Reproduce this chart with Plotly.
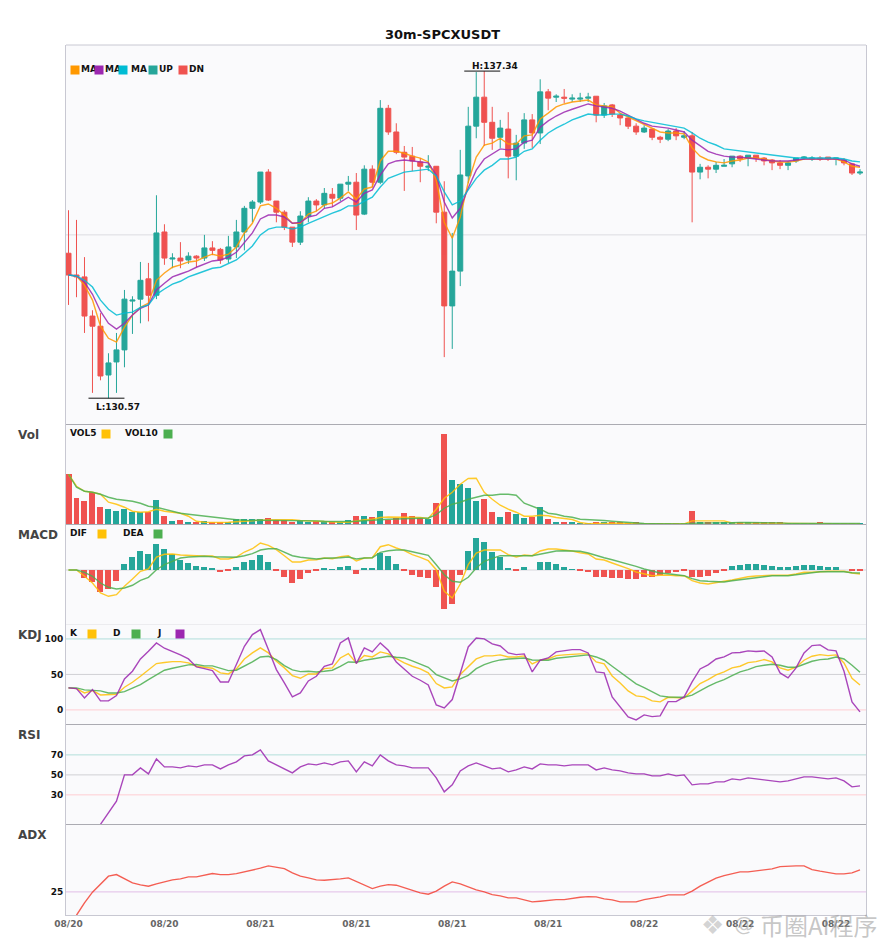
import plotly.graph_objects as go
from plotly.subplots import make_subplots

title = "30m-SPCXUSDT"
tick_idx = [0, 12, 24, 36, 48, 60, 72, 84, 96]
tick_text = ["08/20", "08/20", "08/21", "08/21", "08/21", "08/21", "08/22", "08/22", "08/22"]

opens = [133.57,133.12,133.08,132.27,132.06,131.05,131.32,131.57,132.58,132.62,
         133.04,132.70,134.01,133.45,133.47,133.43,133.51,133.47,133.68,133.65,
         133.45,133.70,134.01,134.50,134.63,135.25,134.65,134.42,134.11,133.80,
         134.34,134.65,134.57,134.79,134.71,135.00,135.04,134.38,135.31,135.04,
         136.57,136.08,135.66,135.58,135.46,135.35,135.37,134.42,132.48,133.20,
         135.17,136.20,136.80,136.28,135.97,136.14,135.58,135.85,136.33,136.06,
         136.91,136.80,136.80,136.76,136.76,136.78,136.82,136.43,136.64,136.43,
         136.37,136.20,136.08,136.14,135.97,135.93,136.10,135.97,136.00,135.25,
         135.35,135.31,135.37,135.42,135.58,135.54,135.60,135.54,135.50,135.44,
         135.39,135.48,135.54,135.52,135.54,135.56,135.52,135.50,135.42,135.23]
highs = [134.46,134.26,133.49,132.39,132.33,131.50,131.92,132.81,132.68,133.39,
         133.37,134.77,134.17,133.57,133.80,133.59,133.53,133.95,133.82,133.68,
         133.93,134.26,134.55,134.67,135.25,135.31,134.65,134.46,134.11,134.44,
         134.73,134.69,134.92,134.92,135.00,135.17,135.23,135.39,135.39,136.74,
         136.64,136.26,135.79,135.77,135.54,135.60,135.37,135.06,133.99,135.71,
         136.60,137.32,137.34,136.60,136.33,136.49,136.02,136.47,136.45,137.17,
         136.97,136.86,136.97,136.86,136.89,136.89,136.82,136.68,136.66,136.47,
         136.41,136.26,136.22,136.14,136.00,136.14,136.16,136.10,136.08,135.42,
         135.39,135.46,135.52,135.58,135.60,135.60,135.60,135.56,135.52,135.50,
         135.48,135.54,135.58,135.58,135.58,135.56,135.54,135.54,135.44,135.31]
lows = [132.50,132.66,131.92,130.68,130.94,130.57,130.68,131.21,131.90,132.12,
        132.16,132.62,133.33,133.26,133.26,133.35,133.28,133.41,133.53,133.35,
        133.37,133.47,133.63,134.21,134.59,134.65,134.21,134.05,133.70,133.74,
        134.21,134.44,134.50,134.53,134.65,134.86,134.05,134.36,134.94,135.00,
        136.02,135.62,134.86,135.27,135.04,135.27,134.19,131.42,131.59,132.89,
        135.02,135.95,135.79,135.71,135.75,135.12,135.08,135.73,135.75,135.83,
        136.53,136.70,136.68,136.70,136.70,136.70,136.28,136.37,136.39,136.22,
        136.14,136.02,136.06,135.91,135.85,135.89,135.91,135.93,134.21,135.10,
        135.12,135.23,135.37,135.35,135.46,135.37,135.46,135.39,135.29,135.31,
        135.29,135.44,135.50,135.48,135.48,135.48,135.39,135.39,135.19,135.19]
closes = [133.12,133.08,132.27,132.06,131.03,131.30,131.57,132.62,132.60,133.01,
          132.70,133.99,133.47,133.47,133.41,133.51,133.47,133.68,133.63,133.43,
          133.70,134.01,134.50,134.63,135.25,134.67,134.42,134.11,133.80,134.34,
          134.65,134.57,134.81,134.71,135.00,135.04,134.36,135.31,135.04,136.57,
          136.08,135.66,135.56,135.48,135.37,135.37,134.42,132.48,133.20,135.19,
          136.20,136.80,136.28,135.95,136.16,135.58,135.85,136.33,136.06,136.91,
          136.78,136.82,136.78,136.78,136.78,136.80,136.43,136.62,136.45,136.37,
          136.20,136.08,136.16,135.97,135.93,136.10,136.00,136.00,135.25,135.35,
          135.31,135.39,135.39,135.58,135.52,135.60,135.54,135.48,135.44,135.39,
          135.44,135.54,135.56,135.54,135.52,135.52,135.54,135.44,135.23,135.25]

ma5 = [133.12,133.10,132.91,132.60,132.06,131.81,131.73,132.04,132.29,132.45,
       132.54,133.01,133.16,133.28,133.33,133.39,133.41,133.49,133.55,133.51,
       133.55,133.70,133.99,134.19,134.55,134.59,134.50,134.36,134.19,134.19,
       134.38,134.44,134.57,134.61,134.71,134.84,134.69,134.90,134.94,135.48,
       135.68,135.68,135.64,135.58,135.54,135.46,135.08,134.21,133.88,134.32,
       135.04,135.56,135.81,135.85,135.95,135.83,135.83,136.00,136.02,136.35,
       136.47,136.60,136.66,136.70,136.72,136.74,136.64,136.62,136.60,136.47,
       136.39,136.31,136.24,136.16,136.08,136.06,136.06,136.04,135.75,135.58,
       135.50,135.46,135.44,135.48,135.50,135.54,135.54,135.52,135.48,135.46,
       135.46,135.48,135.52,135.52,135.52,135.52,135.52,135.46,135.37,135.35]
ma10 = [133.12,133.10,132.97,132.72,132.37,132.12,132.00,132.12,132.29,132.43,
        132.50,132.81,132.95,133.08,133.14,133.20,133.28,133.35,133.41,133.43,
        133.49,133.59,133.80,133.99,134.28,134.36,134.36,134.32,134.19,134.21,
        134.32,134.36,134.50,134.53,134.63,134.73,134.63,134.81,134.88,135.19,
        135.42,135.48,135.50,135.48,135.46,135.44,135.19,134.63,134.30,134.50,
        134.92,135.29,135.52,135.62,135.73,135.71,135.73,135.87,135.91,136.18,
        136.31,136.41,136.49,136.55,136.60,136.66,136.62,136.60,136.57,136.51,
        136.43,136.35,136.26,136.20,136.18,136.16,136.12,136.08,135.91,135.79,
        135.68,135.62,135.58,135.56,135.56,135.54,135.52,135.50,135.48,135.48,
        135.48,135.50,135.52,135.52,135.52,135.52,135.52,135.50,135.42,135.37]
ma20 = [133.12,133.10,133.01,132.87,132.60,132.41,132.29,132.33,132.35,132.45,
        132.50,132.72,132.83,132.93,132.99,133.08,133.14,133.20,133.26,133.28,
        133.35,133.43,133.57,133.72,133.95,134.07,134.11,134.11,134.07,134.11,
        134.19,134.26,134.34,134.40,134.46,134.55,134.55,134.65,134.73,134.94,
        135.12,135.19,135.25,135.27,135.29,135.31,135.17,134.84,134.57,134.65,
        134.88,135.12,135.29,135.39,135.52,135.52,135.56,135.68,135.73,135.91,
        136.06,136.16,136.24,136.33,136.39,136.45,136.43,136.43,136.45,136.45,
        136.41,136.35,136.31,136.28,136.24,136.22,136.18,136.16,136.06,135.95,
        135.87,135.81,135.73,135.71,135.68,135.66,135.64,135.62,135.60,135.58,
        135.56,135.54,135.54,135.54,135.54,135.54,135.54,135.52,135.48,135.46]

volume = [50,26,23,32,17,15,13,15,12,12,12,24,8,3,4,1,2,3,1.5,1.5,
          1.5,5,5,5,5,6,3.5,3.5,2,3,2,2.5,1,1,1,4,8,8,7,13,
          4,6,11,8,6,5,21,90,44,40,36,23,25,12,7,12,10,6,7,17,
          5,1,2,1,0.5,0.5,1.5,1.5,1.5,1.5,0.5,1,0.5,0.3,0.3,0.3,0.3,0.3,13,1.5,
          1.5,1.5,1.5,1,1,1,1,1,1,1.5,0.5,0.3,0.3,0.3,1.5,0.3,0.3,0.3,0.3,0.3]
vol5 = [50,38,33,32,30,22,20,17,13,12,12.5,15,13,12,11,8,3,2,1.7,1.7,
        2,2.7,3,3.5,4,4.5,4.5,4.5,4.5,3.7,3.3,2.7,2.7,2.3,2,2,3.3,4.5,5,6.7,
        7.3,7.3,7.3,7,6.7,5.7,15,26,32,40,45.7,46,32,25,19,15,12,8,8,9,
        8.5,6.7,5.7,4.7,1.7,0.5,0.8,1,1,1,1,0.7,0.7,0.4,0.4,0.4,0.4,0.4,3.3,3.3,
        3.3,3.3,3.3,1.3,1.2,1.2,1.2,1.2,1.2,1.2,0.7,0.4,0.4,0.5,0.6,0.6,0.6,0.6,0.5,0.5]
vol10 = [50,37,33,32,30,27,25,24,23,21,18,17,15,13,11,10,9,8,7,6,
         5,4.5,4,4,3.7,3.7,3.7,3.7,3.7,3.7,3.3,3.3,3,2.7,2.7,2.7,3,3.7,4,4.5,
         5,5.3,5.7,6,6.3,6.3,9.5,16,20,22,25,27,29,29,30,30,29,21,18,15,
         11,10,8,7,5,4.7,3.7,3.7,3,2.3,1.7,1.3,0.7,0.5,0.4,0.3,0.3,0.3,1,1.3,
         1.3,1.3,1.3,1.7,1.7,1.7,1.7,1.7,1.7,1.3,0.8,0.8,0.8,0.8,0.8,0.8,0.8,0.8,0.8,0.8]

macd_hist = [0,0,-0.087,-0.127,-0.227,-0.197,-0.117,0.053,0.123,0.183,
             0.153,0.253,0.203,0.153,0.093,0.063,0.033,0.023,0.013,-0.027,
             -0.017,0.023,0.073,0.093,0.143,0.073,-0.007,-0.077,-0.137,-0.097,
             -0.037,-0.017,0.013,0.001,0.023,0.033,-0.047,0.013,0.013,0.163,
             0.133,0.053,-0.007,-0.057,-0.077,-0.087,-0.177,-0.397,-0.347,-0.057,
             0.183,0.313,0.273,0.173,0.123,0.013,-0.017,0.023,0,0.073,
             0.073,0.053,0.023,0.001,-0.017,-0.027,-0.077,-0.077,-0.087,-0.087,
             -0.097,-0.097,-0.077,-0.077,-0.057,-0.037,-0.027,-0.007,-0.077,-0.077,
             -0.067,-0.037,-0.007,0.033,0.043,0.053,0.053,0.043,0.033,0.023,
             0.023,0.033,0.043,0.043,0.033,0.023,0.023,0,-0.017,-0.017]
dif = [0,0,-0.063,-0.13,-0.23,-0.263,-0.247,-0.163,-0.09,-0.013,
       0.01,0.13,0.157,0.16,0.15,0.15,0.143,0.14,0.14,0.11,
       0.11,0.13,0.18,0.213,0.27,0.247,0.203,0.143,0.08,0.08,
       0.10,0.103,0.12,0.113,0.133,0.143,0.09,0.12,0.123,0.233,
       0.253,0.22,0.193,0.153,0.127,0.093,0.003,-0.213,-0.28,-0.14,
       0.053,0.17,0.20,0.20,0.20,0.153,0.13,0.15,0.143,0.19,
       0.21,0.21,0.203,0.19,0.173,0.16,0.11,0.10,0.07,0.043,
       0.013,-0.02,-0.037,-0.057,-0.053,-0.05,-0.057,-0.057,-0.107,-0.13,
       -0.14,-0.13,-0.113,-0.10,-0.08,-0.067,-0.06,-0.053,-0.053,-0.053,
       -0.053,-0.04,-0.023,-0.023,-0.017,-0.013,-0.013,-0.013,-0.03,-0.04]
dea = [0,0,-0.023,-0.063,-0.13,-0.173,-0.19,-0.18,-0.153,-0.103,
       -0.073,0.003,0.053,0.087,0.12,0.13,0.137,0.137,0.133,0.13,
       0.123,0.127,0.143,0.163,0.20,0.213,0.213,0.18,0.143,0.127,
       0.12,0.11,0.117,0.117,0.123,0.13,0.11,0.12,0.123,0.177,
       0.193,0.20,0.20,0.183,0.163,0.147,0.053,-0.047,-0.113,-0.123,
       -0.073,0.02,0.087,0.113,0.143,0.143,0.14,0.143,0.143,0.16,
       0.18,0.19,0.193,0.193,0.187,0.17,0.143,0.123,0.103,0.083,
       0.06,0.037,0.01,-0.013,-0.03,-0.037,-0.047,-0.057,-0.087,-0.107,
       -0.113,-0.117,-0.12,-0.107,-0.097,-0.087,-0.077,-0.067,-0.057,-0.057,
       -0.057,-0.047,-0.037,-0.027,-0.017,-0.017,-0.017,-0.017,-0.027,-0.03]

kdj_k = [31.0,30.0,23.9,27.2,21.1,21.1,22.1,31.9,39.0,47.4,
         56.8,65.3,66.7,68.1,68.1,66.2,61.5,60.1,58.7,52.1,
         50.7,57.7,71.8,80.3,87.3,80.3,68.5,59.2,48.4,44.6,
         50.7,50.7,58.2,59.2,73.2,79.3,66.2,76.5,74.6,81.7,
         78.9,72.3,66.2,61.5,57.7,52.1,37.1,31.0,32.4,49.8,
         61.5,71.8,76.1,76.1,77.5,74.6,74.6,76.1,64.8,70.0,
         71.8,76.5,77.5,78.4,78.9,78.9,67.6,64.8,47.9,38.0,
         26.8,19.7,18.3,12.7,11.3,17.8,16.9,16.9,26.8,37.1,
         42.7,49.3,53.5,59.2,61.5,66.7,68.1,70.9,67.6,59.2,
         55.9,60.1,70.0,75.6,77.9,76.5,77.5,66.2,44.6,35.2]
kdj_d = [31.0,31.0,28.2,27.7,26.8,23.9,23.9,25.8,30.5,35.7,
         42.7,49.8,55.9,58.7,61.5,63.4,63.9,62.0,62.0,58.2,
         55.4,55.9,61.5,67.6,74.6,75.6,70.9,62.4,56.3,54.0,
         54.5,53.5,54.5,55.9,61.5,67.6,67.1,70.0,71.8,74.2,
         75.6,74.2,73.2,69.0,64.8,60.1,49.8,45.1,40.8,43.7,
         48.8,58.2,63.9,67.6,70.4,71.8,72.8,73.2,70.4,70.4,
         70.0,72.8,74.2,75.6,77.0,77.5,74.6,70.0,61.5,53.1,
         43.7,36.6,31.5,25.8,19.7,18.3,17.8,17.8,20.7,27.2,
         33.3,38.5,42.7,48.4,53.5,56.8,61.0,62.9,64.3,62.9,
         60.1,60.1,63.9,68.5,70.9,71.8,74.6,71.8,62.9,53.1]
kdj_j = [31.0,30.0,16.9,28.6,12.7,12.7,20.2,43.7,54.5,71.8,
         82.6,94.4,86.9,82.6,77.5,71.8,60.6,58.2,55.4,39.4,
         39.4,63.9,89.7,106.1,113.1,85.0,56.8,38.0,18.3,23.9,
         40.8,47.4,61.5,64.8,94.4,101.4,65.3,87.3,81.7,94.4,
         84.0,67.6,56.8,47.4,41.8,35.2,7.0,2.8,14.6,52.1,
         88.7,101.4,100.0,93.0,90.1,80.3,77.9,78.9,53.5,70.0,
         73.2,81.7,83.6,85.0,85.0,80.3,53.5,52.1,18.3,4.2,
         -9.9,-14.1,-7.0,-9.4,-8.5,11.7,11.7,18.3,39.4,57.7,
         63.4,71.8,74.6,80.3,80.8,83.1,82.2,83.1,74.6,52.1,
         45.1,59.2,80.3,90.6,91.6,84.5,83.1,54.5,11.3,-2.8]

rsi = [None,None,None,None,0.5,12.7,23.7,50,50,57,
       51,66,58,58,57,59,58,60,60,56,
       60,63,69,70,75,64,60,56,52,58,
       61,60,62,60,63,64,53,63,59,70,
       64,60,59,57,57,57,47,33,40,54,
       59,62,59,56,57,53,55,58,56,61,
       60,60,59,60,60,60,55,57,55,54,
       52,51,51,49,49,51,49,50,40,41,
       41,43,43,46,45,47,46,45,44,43,
       44,46,48,48,47,46,47,44,38,39]
adx = [None,1.7,14,24.7,32.3,40.7,42.3,38,34,32,
       30.7,33,35,37,38,40,40,42,43.3,42.3,
       42.3,43.3,45,46.3,48.7,51,50,48.3,44,40.7,
       39,37,36.7,37,38,39,35.7,31.7,28.3,30.7,
       32.3,31.7,29,26.7,24,22.7,25.7,30.7,35,33,
       29.7,27,25,22.3,21,19,19,16.7,15,15.7,
       16.7,17.3,17.3,18.7,19.7,20.3,20,18,17,15,
       15,15,17.3,18.3,20,22,22,22,25.7,30.7,
       34.7,38.7,41.3,43.3,45,45,46,47,48,50.3,
       51,51,51,47.3,45.7,44.7,43,43,44,47]

UP = "#26a69a"
DN = "#ef5350"
BG = "#fafafc"
W, H = 885, 950
L, R, T, B = 65.5, 19, 45, 34.5
X_RANGE = [-0.3125, 99.75]
x_idx = list(range(len(closes)))


def px(x):
    return (x - L) / (W - L - R)


def py(y):
    return 1 - (y - T) / (H - T - B)


def square(x, y, color):
    fig.add_annotation(xref="paper", yref="paper", x=px(x), y=py(y), text=" ", width=8, height=8,
                       xanchor="left", yanchor="top", showarrow=False, bgcolor=color, borderpad=0)


def label(x, y, text, size=9, color="#111", weight="bold", family="DejaVu Sans"):
    fig.add_annotation(xref="paper", yref="paper", x=px(x), y=py(y), text=text, xanchor="left",
                       yanchor="middle", showarrow=False, borderpad=0,
                       font=dict(family=family, size=size, color=color, weight=weight))


def line(y_vals, color, row):
    fig.add_trace(go.Scatter(x=x_idx, y=y_vals, mode="lines", opacity=0.85,
                             line=dict(color=color, width=1.4)), row=row, col=1)


fig = make_subplots(rows=6, cols=1, shared_xaxes=True, vertical_spacing=0,
                    row_heights=[379.5, 100, 100, 100, 100, 91])

fig.add_trace(go.Candlestick(x=x_idx, open=opens, high=highs, low=lows, close=closes,
                             whiskerwidth=0,
                             increasing=dict(line=dict(color=UP, width=1), fillcolor=UP),
                             decreasing=dict(line=dict(color=DN, width=1), fillcolor=DN)), row=1, col=1)
line(ma5, "#ff9800", 1)
line(ma10, "#9c27b0", 1)
line(ma20, "#00bcd4", 1)

vol_colors = [UP if c >= o else DN for o, c in zip(opens, closes)]
fig.add_trace(go.Bar(x=x_idx, y=volume, width=0.75, marker=dict(color=vol_colors, line_width=0)), row=2, col=1)
line(vol5, "#ffc107", 2)
line(vol10, "#4caf50", 2)

hist_colors = [UP if v >= 0 else DN for v in macd_hist]
fig.add_trace(go.Bar(x=x_idx, y=macd_hist, width=0.75, marker=dict(color=hist_colors, line_width=0)), row=3, col=1)
line(dif, "#ffc107", 3)
line(dea, "#4caf50", 3)

line(kdj_k, "#ffc107", 4)
line(kdj_d, "#4caf50", 4)
line(kdj_j, "#9c27b0", 4)
line(rsi, "#9c27b0", 5)
line(adx, "#f44336", 6)

# reference lines per panel
for row, val, color in [(1, 133.95, "#dcdce2"), (3, 0, "#d6d6dc"),
                        (4, 100, "#b2dfdb"), (4, 50, "#d0d0d4"), (4, 0, "#ffcdd2"),
                        (5, 70, "#b2dfdb"), (5, 50, "#d0d0d4"), (5, 30, "#ffcdd2"),
                        (6, 25, "#e1bee7")]:
    suffix = "" if row == 1 else str(row)
    fig.add_shape(type="line", xref="x" + suffix, yref="y" + suffix, x0=X_RANGE[0], x1=X_RANGE[1], y0=val, y1=val,
                  line=dict(color=color, width=1), layer="below")
fig.add_shape(type="line", xref="paper", yref="paper", x0=0, x1=1, y0=1, y1=1, line=dict(color="#c8c8d2", width=1))

# high / low markers
hi = highs.index(max(highs))
lo = lows.index(min(lows))
fig.add_shape(type="line", x0=hi - 2.5, x1=hi + 2, y0=highs[hi], y1=highs[hi], xref="x", yref="y",
              line=dict(color="#111", width=1))
fig.add_shape(type="line", x0=lo - 2.5, x1=lo + 2, y0=lows[lo], y1=lows[lo], xref="x", yref="y",
              line=dict(color="#111", width=1))
fig.add_annotation(x=hi - 1.75, y=highs[hi], text=f"H:{highs[hi]:.2f}", xref="x", yref="y", xanchor="left",
                   yanchor="bottom", showarrow=False, yshift=-2,
                   font=dict(family="DejaVu Sans", size=9, color="#111", weight="bold"))
fig.add_annotation(x=lo - 1.75, y=lows[lo], text=f"L:{lows[lo]:.2f}", xref="x", yref="y", xanchor="left",
                   yanchor="top", showarrow=False, yshift=-2,
                   font=dict(family="DejaVu Sans", size=9, color="#111", weight="bold"))

# legends, the later squares sit on top of the earlier text
legend_main = [(70, 80, "MA", "#ff9800"), (94, 104, "MA", "#9c27b0"), (118, 130, "MA", "#00bcd4"),
               (148, 158, "UP", UP), (178, 188, "DN", DN)]
for sx, tx, text, color in legend_main:
    label(tx, 69, text)
    square(sx, 65, color)
for sx, tx, text, color in [(101, 69, "VOL5", "#ffc107"), (163, 124, "VOL10", "#4caf50")]:
    square(sx, 429, color)
    label(tx, 433.5, text)
for sx, tx, text, color in [(97, 69, "DIF", "#ffc107"), (153, 122, "DEA", "#4caf50")]:
    square(sx, 529, color)
    label(tx, 533.5, text)
for sx, tx, text, color in [(87, 69, "K", "#ffc107"), (131, 112, "D", "#4caf50"), (175, 156, "J", "#9c27b0")]:
    square(sx, 629, color)
    label(tx, 633.5, text)

for text, y in [("Vol", 435), ("MACD", 535), ("KDJ", 635), ("RSI", 735), ("ADX", 835)]:
    label(16, y, text, size=12, color="#444")

fig.add_annotation(xref="paper", yref="paper", x=px(442.5), y=py(34.5), text=title, showarrow=False,
                   xanchor="center", yanchor="middle",
                   font=dict(family="DejaVu Sans", size=13, color="#111", weight="bold"))

# watermark
label(700, 926, "❖", size=26, color="rgba(170,170,170,0.5)", weight="normal")
label(733, 925, "@", size=20, color="rgba(150,150,150,0.5)", weight="normal")
label(759, 925, "币圈AI程序", size=24, color="rgba(150,150,150,0.55)", weight="normal", family="Noto Sans CJK SC")

tick_font = dict(family="DejaVu Sans", size=9, color="#111", weight="bold")
y_ranges = {1: [130.03, 137.88], 2: [0, 100], 3: [-0.542, 0.458], 4: [-20, 120.8], 5: [0.8, 100.8], 6: [1.9, 92.8]}
y_ticks = {1: [], 2: [], 3: [], 4: [0, 50, 100], 5: [30, 50, 70], 6: [25]}
for row in range(1, 7):
    fig.update_yaxes(range=y_ranges[row], tickvals=y_ticks[row], showgrid=False, zeroline=False, ticks="",
                     showline=True, mirror=True, linecolor="#c8c8d2", linewidth=1, tickfont=tick_font,
                     row=row, col=1)
    fig.update_xaxes(range=X_RANGE, showgrid=False, zeroline=False, ticks="", showline=True, mirror=False,
                     linecolor="#ababb2" if row < 6 else "#c8c8d2", linewidth=1, rangeslider_visible=False,
                     tickvals=tick_idx, ticktext=tick_text, row=row, col=1)
fig.update_xaxes(tickfont=dict(family="DejaVu Sans", size=9, color="#666", weight="bold"), row=6, col=1)

fig.update_layout(width=W, height=H, margin=dict(l=L, r=R, t=T, b=B, pad=0), paper_bgcolor="white",
                  plot_bgcolor=BG, showlegend=False, boxgap=0.375, boxgroupgap=0, bargap=0, hovermode=False,
                  font=dict(family="DejaVu Sans"))

fig.write_html("out.html", config={"displayModeBar": False}, post_script="document.body.style.margin='0';")
